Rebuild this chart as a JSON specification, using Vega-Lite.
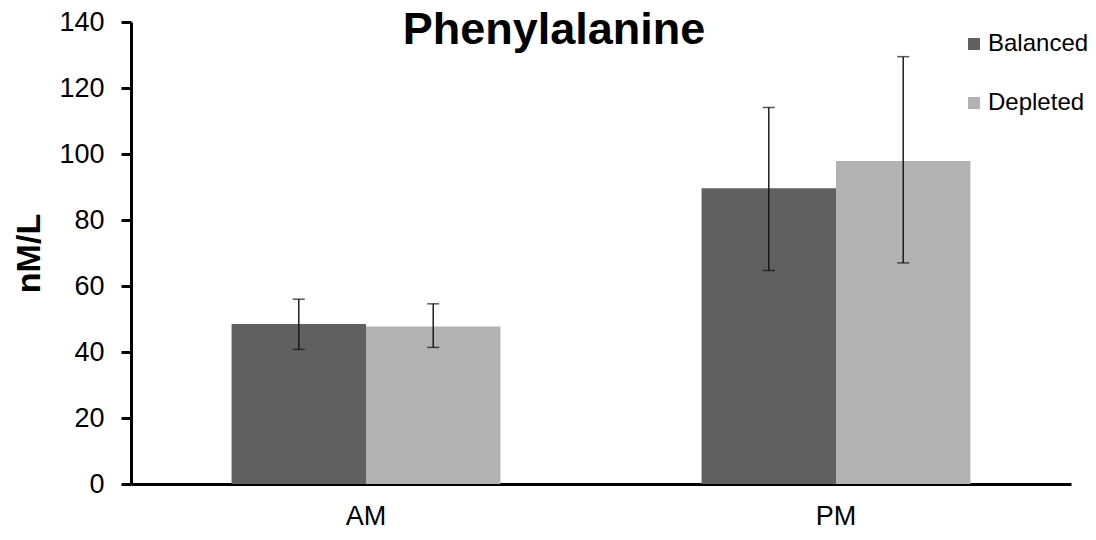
{
  "$schema": "https://vega.github.io/schema/vega-lite/v6.json",
  "width": 940,
  "height": 462,
  "autosize": {"type": "none"},
  "padding": {"left": 131, "top": 22, "right": 25, "bottom": 56},
  "background": "white",
  "config": {
    "view": {"stroke": null},
    "font": "Liberation Sans",
    "axis": {"grid": false}
  },
  "title": {
    "text": "Phenylalanine",
    "font": "Liberation Sans",
    "fontSize": 45,
    "fontWeight": "bold",
    "color": "black",
    "anchor": "middle",
    "frame": "group",
    "baseline": "top",
    "offset": -45,
    "dx": -47
  },
  "data": {
    "values": [
      {"time": "AM", "group": "Balanced", "mean": 48.5, "lo": 40.8, "hi": 56.0},
      {"time": "AM", "group": "Depleted", "mean": 47.7, "lo": 41.4, "hi": 54.6},
      {"time": "PM", "group": "Balanced", "mean": 89.6, "lo": 64.7, "hi": 114.1},
      {"time": "PM", "group": "Depleted", "mean": 97.9, "lo": 67.0, "hi": 129.5}
    ]
  },
  "encoding": {
    "x": {
      "field": "time",
      "type": "nominal",
      "scale": {"paddingInner": 0.428, "paddingOuter": 0.214},
      "axis": {
        "title": null,
        "labelAngle": 0,
        "labelFontSize": 27,
        "labelColor": "black",
        "labelPadding": 19,
        "ticks": false,
        "tickSize": 0,
        "domainColor": "black",
        "domainWidth": 3
      }
    },
    "xOffset": {"field": "group", "type": "nominal", "sort": ["Balanced", "Depleted"]}
  },
  "layer": [
    {
      "mark": {"type": "bar"},
      "encoding": {
        "y": {
          "field": "mean",
          "type": "quantitative",
          "scale": {"domain": [0, 140]},
          "axis": {
            "title": "nM/L",
            "titleFontSize": 34,
            "titleFontWeight": "bold",
            "titleColor": "black",
            "titlePadding": 12,
            "values": [0, 20, 40, 60, 80, 100, 120, 140],
            "labelFontSize": 27,
            "labelColor": "black",
            "labelPadding": 17,
            "tickSize": 10,
            "tickWidth": 3,
            "tickColor": "black",
            "domainColor": "black",
            "domainWidth": 3
          }
        },
        "color": {
          "field": "group",
          "type": "nominal",
          "scale": {"domain": ["Balanced", "Depleted"], "range": ["#606060", "#b2b2b2"]},
          "legend": {
            "title": null,
            "orient": "none",
            "legendX": 831,
            "legendY": 10,
            "padding": 0,
            "symbolType": "square",
            "symbolSize": 144,
            "symbolStrokeWidth": 0,
            "labelFontSize": 24,
            "labelColor": "black",
            "labelOffset": 2,
            "rowPadding": 35
          }
        }
      }
    },
    {
      "mark": {"type": "rule", "color": "#111111", "strokeWidth": 1.4},
      "encoding": {
        "y": {"field": "lo", "type": "quantitative"},
        "y2": {"field": "hi"}
      }
    },
    {
      "mark": {"type": "tick", "color": "#111111", "size": 12, "thickness": 1.5},
      "encoding": {
        "y": {"field": "lo", "type": "quantitative"}
      }
    },
    {
      "mark": {"type": "tick", "color": "#111111", "size": 12, "thickness": 1.5},
      "encoding": {
        "y": {"field": "hi", "type": "quantitative"}
      }
    }
  ]
}
